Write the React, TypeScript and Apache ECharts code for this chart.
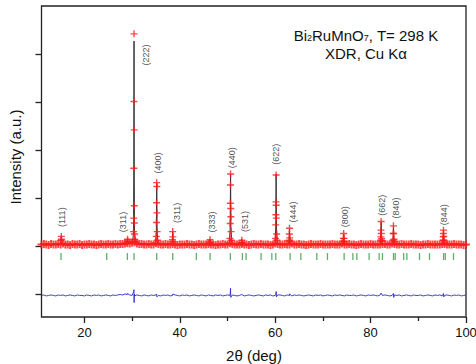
import React, { useEffect, useRef } from 'react';
import * as echarts from 'echarts';

// ---- axes ----
const X_MIN = 11;
const X_MAX = 100;
const Y_MIN = -1.479;
const Y_MAX = 5;
const xTickValues = [20, 40, 60, 80, 100];
const yTickValues = [-1, 0, 1, 2, 3, 4];

// ---- observed background (2θ from 11 to 100 in 0.5° steps, intensity ×100) ----
const OBS_BG_START = 11;
const OBS_BG_STEP = 0.5;
const obsBackground = [
  3, 4, 3, 2, 4, 3, 3, 4, 3, 5,
  3, 3, 2, 4, 3, 3, 4, 2, 3, 3,
  4, 3, 3, 2, 3, 4, 3, 3, 4, 3,
  3, 4, 3, 4, 4, 5, 6, 5, 7, 8,
  5, 4, 4, 3, 3, 4, 3, 3, 6, 4,
  3, 3, 4, 3, 3, 4, 3, 2, 3, 3,
  3, 4, 3, 3, 2, 3, 4, 3, 3, 3,
  4, 3, 3, 2, 3, 3, 4, 3, 3, 6,
  4, 3, 3, 3, 4, 3, 3, 2, 3, 4,
  3, 3, 4, 3, 3, 3, 2, 3, 5, 4,
  3, 3, 4, 3, 3, 5, 3, 3, 4, 3,
  3, 2, 3, 4, 3, 3, 3, 4, 3, 3,
  3, 3, 4, 3, 3, 3, 5, 3, 3, 4,
  3, 3, 2, 3, 4, 3, 3, 3, 4, 3,
  3, 3, 3, 4, 4, 3, 3, 5, 4, 3,
  3, 4, 3, 3, 3, 4, 3, 3, 3, 2,
  3, 3, 4, 3, 3, 3, 3, 3, 4, 4,
  3, 3, 3, 4, 3, 3, 3, 2, 3,
];

// ---- observed points on the reflections [2θ, intensity] ----
const obsPeaks: [number, number][] = [
  [15.1, 0.12], [15.15, 0.2], [15.2, 0.14],
  [28.95, 0.08], [29.04, 0.14], [29.1, 0.1],
  [30.3, 0.3], [30.33, 0.58], [30.35, 1.62], [30.37, 3.01], [30.4, 4.42], [30.43, 2.42],
  [30.45, 0.84], [30.47, 0.48], [30.5, 0.25], [30.55, 0.14], [30.6, 0.1],
  [35.06, 0.2], [35.1, 0.49], [35.12, 0.9], [35.15, 1.32], [35.18, 1.24], [35.2, 0.69],
  [35.24, 0.3], [35.3, 0.12],
  [38.45, 0.13], [38.5, 0.3], [38.55, 0.19], [38.6, 0.09],
  [46.3, 0.08], [46.34, 0.13], [46.4, 0.07],
  [50.5, 0.16], [50.56, 0.47], [50.6, 0.89], [50.62, 1.27], [50.64, 1.5], [50.67, 0.78],
  [50.7, 0.61], [50.75, 0.3], [50.8, 0.12],
  [52.95, 0.07], [52.99, 0.12], [53.05, 0.07],
  [60.05, 0.16], [60.1, 0.44], [60.13, 0.65], [60.16, 0.92], [60.19, 1.48], [60.21, 0.85],
  [60.24, 0.58], [60.3, 0.25], [60.36, 0.12],
  [62.9, 0.12], [62.95, 0.25], [63.0, 0.37], [63.05, 0.17], [63.1, 0.1],
  [74.25, 0.1], [74.3, 0.16], [74.35, 0.26], [74.42, 0.16], [74.5, 0.09],
  [82.1, 0.12], [82.15, 0.19], [82.18, 0.33], [82.21, 0.51], [82.24, 0.26], [82.3, 0.15], [82.4, 0.1],
  [84.7, 0.12], [84.75, 0.26], [84.79, 0.42], [84.83, 0.26], [84.9, 0.14], [85.0, 0.09],
  [95.18, 0.12], [95.22, 0.19], [95.26, 0.26], [95.28, 0.33], [95.33, 0.2], [95.4, 0.12], [95.5, 0.08],
];

// ---- calculated profile [2θ, intensity] ----
const calcProfile: [number, number][] = [
  [11, 0.03],
  [14.8, 0.03], [15.05, 0.06], [15.15, 0.18], [15.25, 0.06], [15.5, 0.03],
  [28.7, 0.04], [28.95, 0.07], [29.04, 0.13], [29.12, 0.07], [29.4, 0.05],
  [30.1, 0.06], [30.3, 0.3], [30.35, 1.7], [30.4, 4.27], [30.45, 1.5], [30.5, 0.3], [30.7, 0.07],
  [31.2, 0.04],
  [34.9, 0.03], [35.08, 0.3], [35.16, 1.3], [35.24, 0.3], [35.45, 0.04],
  [38.3, 0.03], [38.45, 0.1], [38.52, 0.3], [38.6, 0.1], [38.75, 0.03],
  [46.15, 0.03], [46.34, 0.12], [46.5, 0.03],
  [50.35, 0.03], [50.55, 0.35], [50.64, 1.5], [50.72, 0.35], [50.95, 0.03],
  [52.85, 0.03], [52.99, 0.11], [53.15, 0.03],
  [59.95, 0.03], [60.12, 0.4], [60.19, 1.5], [60.27, 0.35], [60.45, 0.03],
  [62.8, 0.03], [62.94, 0.14], [63.0, 0.36], [63.08, 0.12], [63.25, 0.03],
  [74.15, 0.03], [74.3, 0.1], [74.35, 0.25], [74.43, 0.09], [74.6, 0.03],
  [82.0, 0.03], [82.14, 0.18], [82.21, 0.5], [82.29, 0.16], [82.45, 0.03],
  [84.6, 0.03], [84.72, 0.15], [84.79, 0.42], [84.87, 0.14], [85.05, 0.03],
  [95.1, 0.03], [95.22, 0.12], [95.28, 0.32], [95.36, 0.1], [95.55, 0.03],
  [100, 0.03],
];

// ---- difference curve: baseline level, 0.5° samples (×100), and spikes ----
const DIFF_LEVEL = -1.03;
const diffSamples = [
  0, 1, -1, 0, 1, 0, -1, 1, 0, 1,
  -1, 0, 1, 0, -1, 1, 0, 0, -1, 1,
  0, -1, 1, 0, 1, -1, 0, 1, 0, -1,
  1, 0, 1, 2, 1, 3, 2, 1, 0, -1,
  1, 0, -1, 1, 0, -1, 1, 0, 1, 0,
  -1, 1, 0, 1, -1, 0, 1, 0, -1, 1,
  0, 1, -1, 0, 1, 0, -1, 1, 0, -1,
  1, 0, -1, 1, 0, 1, -1, 0, 1, 0,
  1, 0, -1, 0, 1, -1, 0, 1, 0, -1,
  0, 1, 0, -1, 1, 0, 1, -1, 0, 1,
  1, 0, -1, 1, 0, -1, 1, 0, 1, 0,
  -1, 0, 1, 0, -1, 1, 0, 1, -1, 0,
  1, 0, -1, 1, 0, 1, 0, -1, 1, 0,
  0, 1, -1, 0, 1, 0, -1, 1, 0, 1,
  0, -1, 1, 0, 1, 0, -1, 0, 1, 0,
  1, -1, 0, 1, 0, -1, 1, 0, 0, 1,
  -1, 0, 1, 0, -1, 1, 0, 1, -1, 0,
  1, 0, -1, 1, 0, 1, -1, 0, 1,
];
const diffSpikes: [number, number][] = [
  [29.0, -0.99], [30.33, -0.95], [30.38, -0.91], [30.42, -1.18], [30.47, -1.0],
  [35.14, -1.0], [35.2, -1.06], [38.52, -1.0],
  [50.58, -0.98], [50.63, -0.88], [50.68, -1.07], [52.99, -1.01],
  [60.16, -1.0], [60.2, -0.95], [60.25, -1.06], [63.0, -1.0],
  [82.2, -0.98], [84.78, -0.99], [84.84, -1.07], [95.28, -0.99], [95.33, -1.06],
];

// ---- Bragg reflection positions ----
const BRAGG_LEVEL = -0.22;
const braggPositions = [
  15.09, 24.68, 29.0, 30.4, 35.16, 38.52, 43.47, 46.34, 50.6, 53.12, 53.89,
  57.04, 59.29, 60.12, 63.12, 65.37, 68.72, 70.95, 74.45, 76.28, 77.11, 79.69,
  81.79, 82.48, 84.8, 85.15, 86.93, 87.6, 90.25, 92.34, 95.3, 95.65, 97.38,
];

// ---- Miller index annotations [2θ, intensity, label] ----
const hklLabels: [number, number, string][] = [
  [15.24, 0.6, '(111)'],
  [28.1, 0.5, '(311)'],
  [33.0, 3.98, '(222)'],
  [35.5, 1.73, '(400)'],
  [39.36, 0.69, '(311)'],
  [46.7, 0.5, '(333)'],
  [50.9, 1.84, '(440)'],
  [53.69, 0.51, '(531)'],
  [60.2, 1.91, '(622)'],
  [63.69, 0.71, '(444)'],
  [74.66, 0.61, '(800)'],
  [82.36, 0.85, '(662)'],
  [85.3, 0.79, '(840)'],
  [95.43, 0.65, '(844)'],
];

const FONT = '"Liberation Sans", Arial, Helvetica, sans-serif';
const PLUS_THIN = 'path://M2.8,0H4.2V2.8H7V4.2H4.2V7H2.8V4.2H0V2.8H2.8Z';
const PLUS_BAND = 'path://M3,0H5V3H8V5H5V8H3V5H0V3H3Z';

const hidden = {
  axisLine: { show: false, onZero: false },
  axisTick: { show: false },
  axisLabel: { show: false },
  splitLine: { show: false },
};

export default function App() {
  const ref = useRef<HTMLDivElement>(null);

  useEffect(() => {
    document.body.style.margin = '0';
    if (!ref.current) return;
    const chart = echarts.init(ref.current, undefined, { renderer: 'svg' });

    const obsBgData = obsBackground.map((v, i) => [OBS_BG_START + i * OBS_BG_STEP, v / 100]);

    const diffData: [number, number][] = diffSamples
      .map((v, i) => [OBS_BG_START + i * OBS_BG_STEP, DIFF_LEVEL + v / 100] as [number, number])
      .concat(diffSpikes)
      .sort((a, b) => a[0] - b[0]);

    const braggData = braggPositions.map((p) => [p, BRAGG_LEVEL]);
    const labelData = hklLabels.map(([x, y, n]) => ({ value: [x, y], name: n }));
    const tickStyle = { color: '#222', width: 1.3 };
    const gridBase = { containLabel: false, outerBoundsMode: 'none' } as any;

    const option: echarts.EChartsOption = {
      animation: false,
      backgroundColor: '#fff',
      grid: [
        { ...gridBase, left: 41.5, right: 10, top: 6, bottom: 47, show: true, borderColor: '#222', borderWidth: 1.3, backgroundColor: 'transparent' },
        { ...gridBase, left: 84.4, right: 10, top: 6, bottom: 47, show: false },
        { ...gridBase, left: 41.5, right: 10, top: 54, bottom: 70, show: false },
      ],
      xAxis: [
        { type: 'value', gridIndex: 0, min: X_MIN, max: X_MAX, ...hidden },
        {
          type: 'value', gridIndex: 1, min: xTickValues[0], max: xTickValues[xTickValues.length - 1],
          interval: xTickValues[1] - xTickValues[0], position: 'bottom',
          axisLine: { show: false, onZero: false },
          axisTick: { show: true, length: 6, lineStyle: tickStyle },
          minorTick: { show: true, splitNumber: 2, length: 4, lineStyle: tickStyle },
          axisLabel: { show: true, fontSize: 13, fontFamily: FONT, color: '#111', margin: 9 },
          splitLine: { show: false },
        },
        { type: 'value', gridIndex: 2, min: 0, max: 1, show: false, ...hidden },
      ],
      yAxis: [
        { type: 'value', gridIndex: 0, min: Y_MIN, max: Y_MAX, ...hidden },
        { type: 'value', gridIndex: 1, min: 0, max: 1, show: false, ...hidden },
        {
          type: 'value', gridIndex: 2, min: yTickValues[0], max: yTickValues[yTickValues.length - 1],
          interval: 1, position: 'left',
          axisLine: { show: false, onZero: false },
          axisTick: { show: true, length: 6, lineStyle: tickStyle },
          axisLabel: { show: false },
          splitLine: { show: false },
        },
      ],
      series: [
        {
          type: 'line', name: 'Difference', xAxisIndex: 0, yAxisIndex: 0,
          data: diffData, showSymbol: false, symbol: 'none',
          lineStyle: { color: '#2a2acc', width: 0.9 }, z: 2,
        },
        {
          type: 'line', name: 'Calculated', xAxisIndex: 0, yAxisIndex: 0,
          data: calcProfile, showSymbol: false, symbol: 'none',
          lineStyle: { color: '#333', width: 1 }, z: 2,
        },
        {
          type: 'scatter', name: 'Observed', xAxisIndex: 0, yAxisIndex: 0,
          data: obsBgData, symbol: PLUS_BAND, symbolSize: 8,
          itemStyle: { color: '#ff1a1a' }, z: 3,
        },
        {
          type: 'scatter', name: 'Observed', xAxisIndex: 0, yAxisIndex: 0,
          data: obsPeaks, symbol: PLUS_THIN, symbolSize: 7,
          itemStyle: { color: '#ff1a1a' }, z: 3,
        },
        {
          type: 'scatter', name: 'Bragg', xAxisIndex: 0, yAxisIndex: 0,
          data: braggData, symbol: 'rect', symbolSize: [1.3, 7],
          itemStyle: { color: '#3a9a4a' }, z: 3,
        },
        {
          type: 'scatter', name: 'hkl', xAxisIndex: 0, yAxisIndex: 0,
          data: labelData, symbolSize: 1, itemStyle: { color: 'rgba(0,0,0,0)' },
          label: {
            show: true, formatter: '{b}', position: 'inside', rotate: 90,
            fontSize: 9, fontFamily: FONT, color: '#222',
          },
          z: 4,
        },
      ],
      graphic: [
        {
          type: 'text', x: 366, y: 35, z: 10,
          style: {
            text: '{n|Bi}{s|2}{n|RuMnO}{s|7}{n|, T= 298 K}',
            align: 'center', verticalAlign: 'middle',
            rich: {
              n: { fontSize: 15, fontFamily: FONT, fill: '#111', lineHeight: 15 },
              s: { fontSize: 9, fontFamily: FONT, fill: '#111', lineHeight: 4, verticalAlign: 'bottom' },
            },
          } as any,
        },
        {
          type: 'text', x: 366, y: 53, z: 10,
          style: {
            text: 'XDR, Cu Kα', fontSize: 15, fontFamily: FONT, fill: '#111',
            align: 'center', verticalAlign: 'middle',
          } as any,
        },
        {
          type: 'text', x: 15, y: 157, rotation: Math.PI / 2, z: 10,
          style: {
            text: 'Intensity (a.u.)', fontSize: 15, fontFamily: FONT, fill: '#111',
            align: 'center', verticalAlign: 'middle',
          } as any,
        },
        {
          type: 'text', x: 254, y: 355, z: 10,
          style: {
            text: '2θ (deg)', fontSize: 15, fontFamily: FONT, fill: '#111',
            align: 'center', verticalAlign: 'middle',
          } as any,
        },
      ],
    };

    chart.setOption(option);
    return () => chart.dispose();
  }, []);

  return <div ref={ref} style={{ width: 476, height: 364 }} />;
}
